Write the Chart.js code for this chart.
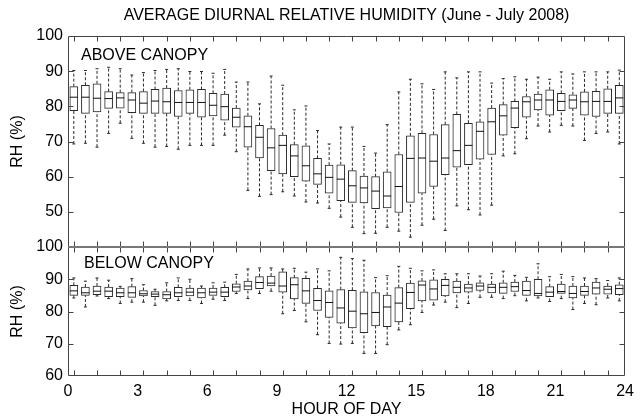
<!DOCTYPE html>
<html>
<head>
<meta charset="utf-8">
<script src="https://cdn.jsdelivr.net/npm/chart.js@4"></script>
<style>
  html, body { margin: 0; padding: 0; background: #fff; }
</style>
</head>
<body>
<canvas id="rhchart" width="640" height="419"></canvas>
<script>
// half-hour bins (box centres, hour of day)
const hours = [0.25, 0.75, 1.25, 1.75, 2.25, 2.75, 3.25, 3.75, 4.25, 4.75, 5.25, 5.75,
  6.25, 6.75, 7.25, 7.75, 8.25, 8.75, 9.25, 9.75, 10.25, 10.75, 11.25, 11.75,
  12.25, 12.75, 13.25, 13.75, 14.25, 14.75, 15.25, 15.75, 16.25, 16.75, 17.25, 17.75,
  18.25, 18.75, 19.25, 19.75, 20.25, 20.75, 21.25, 21.75, 22.25, 22.75, 23.25, 23.75];

// above canopy RH (%)
const aboveLow = [69.3, 69.5, 68.4, 72.3, 75.2, 70.9, 69.5, 68.4, 68.6, 67.8, 68.9, 68.9,
  68.9, 71.8, 67.1, 56.1, 54.4, 54.9, 55.7, 54.5, 52.8, 52.5, 51.0, 48.5,
  45.6, 43.8, 43.9, 45.6, 44.5, 42.8, 46.2, 47.9, 44.7, 51.7, 50.6, 49.1,
  51.9, 65.9, 66.5, 70.8, 74.4, 72.7, 74.6, 74.4, 70.3, 72.3, 72.7, 69.3];
const aboveQ1 = [78.8, 78.0, 78.4, 79.4, 79.5, 78.2, 78.0, 78.0, 78.0, 77.1, 78.0, 76.9,
  77.3, 76.1, 74.1, 68.4, 65.3, 61.7, 60.8, 60.0, 58.7, 57.8, 55.3, 53.2,
  52.7, 52.5, 50.9, 51.1, 49.8, 52.7, 55.3, 57.2, 60.6, 62.7, 63.4, 65.0,
  66.3, 71.8, 73.9, 76.9, 79.0, 77.5, 78.8, 79.4, 77.5, 77.1, 78.0, 78.0];
const aboveMed = [82.6, 82.6, 82.3, 82.2, 82.4, 81.8, 80.9, 81.5, 81.3, 81.1, 81.1, 81.1,
  80.3, 79.9, 76.9, 74.2, 71.2, 68.2, 68.9, 65.9, 63.1, 60.8, 59.8, 59.3,
  57.4, 56.8, 55.9, 54.5, 57.2, 65.2, 65.3, 64.4, 65.3, 67.4, 68.9, 72.9,
  75.6, 77.3, 79.5, 81.3, 81.8, 81.8, 81.4, 81.8, 81.3, 81.4, 81.4, 82.4];
const aboveQ3 = [85.6, 86.0, 86.4, 84.2, 83.9, 83.9, 84.2, 84.8, 85.2, 84.5, 84.7, 84.8,
  83.7, 83.5, 79.5, 77.3, 74.6, 73.7, 71.8, 69.1, 68.8, 65.2, 63.3, 63.4,
  61.7, 60.2, 60.0, 61.4, 66.3, 71.6, 72.3, 72.0, 74.8, 77.7, 75.2, 75.6,
  79.5, 80.5, 81.4, 82.8, 83.5, 84.7, 83.7, 83.3, 84.1, 84.3, 85.0, 86.0];
const aboveHigh = [90.2, 90.2, 90.7, 91.1, 90.7, 88.9, 89.6, 90.2, 90.5, 90.7, 89.9, 89.9,
  89.4, 90.5, 86.9, 86.9, 80.7, 88.6, 86.0, 79.0, 80.1, 73.1, 69.3, 74.1,
  74.1, 68.6, 66.7, 74.8, 84.1, 87.7, 86.4, 84.8, 89.8, 88.1, 89.8, 89.8,
  86.6, 87.9, 88.4, 87.7, 88.3, 87.7, 89.8, 89.2, 89.8, 89.8, 89.8, 90.3];

// below canopy RH (%)
const belowLow = [84.2, 81.4, 84.8, 84.0, 82.5, 82.9, 82.9, 81.9, 83.3, 83.4, 83.4, 82.5,
  83.8, 83.4, 85.6, 84.0, 85.6, 86.3, 79.3, 80.3, 76.8, 72.8, 70.1, 69.9,
  70.1, 67.0, 67.0, 69.7, 74.3, 75.9, 79.7, 82.0, 82.9, 81.2, 82.5, 84.4,
  84.4, 84.0, 84.9, 83.3, 84.2, 83.1, 84.0, 80.6, 82.5, 82.1, 84.2, 83.3];
const belowQ1 = [85.0, 85.0, 85.2, 84.6, 84.6, 84.4, 84.8, 84.6, 83.9, 84.6, 84.8, 84.2,
  85.0, 84.6, 86.2, 86.7, 87.1, 87.9, 86.0, 83.9, 82.5, 80.3, 78.2, 76.4,
  74.9, 73.4, 75.5, 75.3, 76.8, 80.9, 83.3, 83.5, 84.8, 85.8, 86.0, 86.5,
  85.8, 85.6, 86.2, 85.0, 84.8, 84.6, 85.6, 84.2, 85.0, 85.4, 85.4, 85.2];
const belowMed = [86.4, 85.8, 86.3, 86.3, 85.8, 85.8, 85.5, 85.4, 85.2, 85.8, 86.0, 85.8,
  86.0, 86.0, 87.6, 87.9, 89.0, 88.8, 87.9, 88.3, 86.4, 83.4, 82.8, 81.1,
  80.1, 79.3, 79.7, 81.4, 82.6, 85.9, 88.2, 87.0, 88.1, 87.5, 87.3, 87.9,
  87.5, 87.5, 87.7, 86.5, 85.6, 86.0, 86.2, 85.6, 86.2, 87.3, 86.9, 87.1];
const belowQ3 = [88.1, 87.6, 87.9, 87.6, 87.3, 87.7, 86.5, 86.2, 86.2, 87.5, 87.3, 87.3,
  87.3, 87.5, 88.6, 89.4, 90.8, 91.0, 92.3, 90.5, 90.3, 87.2, 86.4, 86.8,
  86.6, 86.1, 85.9, 85.1, 87.4, 88.8, 89.5, 89.8, 90.0, 89.4, 88.5, 88.9,
  88.5, 88.9, 89.1, 89.4, 90.0, 87.7, 88.5, 87.9, 87.9, 89.1, 87.9, 88.3];
const belowHigh = [90.4, 89.4, 90.4, 89.7, 87.8, 90.2, 88.3, 86.9, 88.9, 90.4, 90.0, 87.9,
  88.9, 89.1, 91.5, 93.2, 93.5, 93.5, 93.2, 93.4, 92.2, 93.2, 92.6, 96.8,
  96.4, 95.9, 90.5, 91.1, 94.0, 93.4, 92.6, 92.9, 91.7, 91.7, 91.7, 91.0,
  91.7, 92.5, 91.2, 90.6, 94.8, 90.8, 91.5, 90.8, 90.4, 90.2, 89.6, 90.4];

// tick values
const xTickValues = [0, 3, 6, 9, 12, 15, 18, 21, 24];
const topTickValues = [40, 50, 60, 70, 80, 90, 100];
const bottomTickValues = [60, 70, 80, 90, 100];

const boxColor = '#2a2a2a';
Chart.defaults.font.family = '"Liberation Sans", Arial, sans-serif';
Chart.defaults.font.size = 16;
Chart.defaults.color = '#000';

function pointsOf(vals) {
  return hours.map((h, i) => ({x: h, y: vals[i]}));
}

// dashed whisker stems: lo->q1 and q3->hi, split by gaps
function whiskerPoints(lo, q1, q3, hi) {
  const pts = [];
  hours.forEach((h, i) => {
    pts.push({x: h, y: lo[i]}, {x: h, y: q1[i]}, {x: h, y: null});
    pts.push({x: h, y: q3[i]}, {x: h, y: hi[i]}, {x: h, y: null});
  });
  return pts;
}

function panelDatasets(axis, lo, q1, med, q3, hi) {
  return [
    {
      type: 'line', yAxisID: axis, order: 4,
      data: whiskerPoints(lo, q1, q3, hi),
      borderColor: boxColor, borderWidth: 1, borderDash: [3, 2],
      pointRadius: 0, spanGaps: false, fill: false
    },
    {
      type: 'line', yAxisID: axis, order: 3,
      data: pointsOf(lo).concat(pointsOf(hi)),
      showLine: false, pointStyle: 'line', pointRadius: 1.5,
      pointBorderWidth: 1, borderColor: boxColor, pointBorderColor: boxColor
    },
    {
      type: 'bar', yAxisID: axis, order: 2,
      data: hours.map((h, i) => ({x: h, y: [q1[i], q3[i]]})),
      backgroundColor: '#fff', borderColor: boxColor, borderWidth: 1,
      borderSkipped: false, barThickness: 8, grouped: false
    },
    {
      type: 'line', yAxisID: axis, order: 1,
      data: pointsOf(med),
      showLine: false, pointStyle: 'line', pointRadius: 4,
      pointBorderWidth: 1, borderColor: '#111', pointBorderColor: '#111'
    }
  ];
}

// frame, inward tick marks and panel captions
const framePlugin = {
  id: 'frame',
  afterDraw(chart) {
    const {ctx, chartArea} = chart;
    const xs = chart.scales.x;
    const yT = chart.scales.yTop, yB = chart.scales.yBot;
    const L = Math.round(chartArea.left) + 0.5, R = Math.round(chartArea.right) - 0.5;
    const len = 5;
    const hourMarks = hours.filter((h, i) => i % 2 === 0);
    ctx.save();
    ctx.strokeStyle = '#444';
    ctx.lineWidth = 1;
    ctx.beginPath();
    [[yT, [50, 60, 70, 80, 90]], [yB, [70, 80, 90]]].forEach(([s, vals]) => {
      const t = Math.round(s.top) + 0.5, b = Math.round(s.bottom) - 0.5;
      ctx.rect(L, t, R - L, b - t);
      hourMarks.forEach(h => {
        const px = Math.round(xs.getPixelForValue(h)) + 0.5;
        ctx.moveTo(px, t); ctx.lineTo(px, t + len);
        ctx.moveTo(px, b); ctx.lineTo(px, b - len);
      });
      vals.forEach(v => {
        const py = Math.round(s.getPixelForValue(v)) + 0.5;
        ctx.moveTo(L, py); ctx.lineTo(L + len, py);
        ctx.moveTo(R, py); ctx.lineTo(R - len, py);
      });
    });
    ctx.stroke();
    // shared border between panels
    ctx.strokeStyle = '#777';
    ctx.lineWidth = 2;
    ctx.beginPath();
    ctx.moveTo(L, Math.round(yT.bottom));
    ctx.lineTo(R, Math.round(yT.bottom));
    ctx.stroke();
    ctx.fillStyle = '#000';
    ctx.font = '16px "Liberation Sans", Arial, sans-serif';
    ctx.textBaseline = 'middle';
    ctx.fillText('ABOVE CANOPY', xs.getPixelForValue(0.56), yT.getPixelForValue(94.4));
    ctx.fillText('BELOW CANOPY', xs.getPixelForValue(0.69), yB.getPixelForValue(94.9));
    ctx.restore();
  }
};

const ctx = document.getElementById('rhchart');
const rhChart = new Chart(ctx, {
  type: 'bar',
  data: {
    datasets: panelDatasets('yTop', aboveLow, aboveQ1, aboveMed, aboveQ3, aboveHigh)
      .concat(panelDatasets('yBot', belowLow, belowQ1, belowMed, belowQ3, belowHigh))
  },
  options: {
    responsive: false,
    animation: false,
    events: [],
    layout: { padding: { left: 0, right: 12, top: 0, bottom: 0 } },
    plugins: {
      legend: { display: false },
      tooltip: { enabled: false },
      title: {
        display: true,
        fullSize: false,
        text: 'AVERAGE DIURNAL RELATIVE HUMIDITY (June - July 2008)',
        color: '#000',
        font: { size: 16, weight: 'normal' },
        padding: { top: 6, bottom: 10.8 }
      }
    },
    scales: {
      x: {
        type: 'linear', position: 'bottom', min: 0, max: 24, offset: false,
        grid: { display: false, drawTicks: false },
        border: { display: false },
        afterBuildTicks: s => { s.ticks = xTickValues.map(v => ({value: v})); },
        ticks: { padding: 6, maxRotation: 0, autoSkip: false },
        title: { display: true, text: 'HOUR OF DAY', padding: { top: 0, bottom: 0 } },
        afterFit: s => { s.height = 43; }
      },
      yTop: {
        type: 'linear', position: 'left', stack: 'rh', stackWeight: 211, weight: 2,
        min: 40, max: 100,
        grid: { display: false, drawTicks: false },
        border: { display: false },
        afterBuildTicks: s => { s.ticks = topTickValues.map(v => ({value: v})); },
        ticks: { padding: 5, autoSkip: false, callback: v => (v === 40 ? '' : v) },
        title: { display: true, text: 'RH (%)', padding: { top: 8, bottom: 0 } },
        afterFit: s => { s.width = 68; }
      },
      yBot: {
        type: 'linear', position: 'left', stack: 'rh', stackWeight: 129, weight: 1,
        min: 60, max: 100,
        grid: { display: false, drawTicks: false },
        border: { display: false },
        afterBuildTicks: s => { s.ticks = bottomTickValues.map(v => ({value: v})); },
        ticks: { padding: 5, autoSkip: false },
        title: { display: true, text: 'RH (%)', padding: { top: 8, bottom: 0 } },
        afterFit: s => { s.width = 68; }
      }
    }
  },
  plugins: [framePlugin]
});
</script>
</body>
</html>
